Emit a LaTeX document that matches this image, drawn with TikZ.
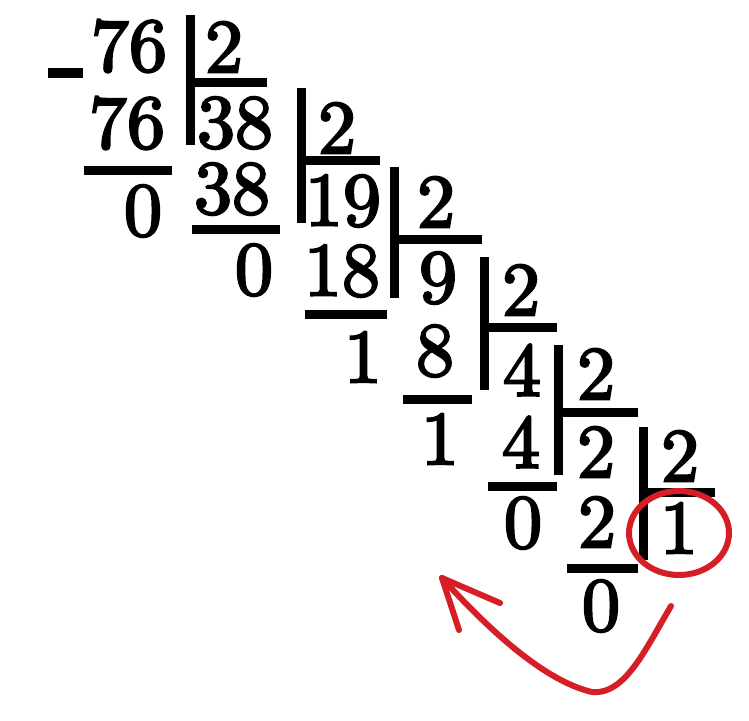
\documentclass[tikz,border=0pt]{standalone}
\usepackage{fontspec}
\newfontfamily\digf{lmroman10-regular}[Extension=.otf,FakeBold=3]
\definecolor{penred}{RGB}{214,30,38}
\tikzset{
  num/.style={inner sep=0pt, font=\digf\fontsize{76}{80}\selectfont, text=black},
  bar/.style={line width=9pt, line cap=butt, black},
  pen/.style={line width=6pt, penred, line cap=round, line join=round}
}
\begin{document}
\begin{tikzpicture}[x=1pt,y=-1pt]
\useasboundingbox (0,0) rectangle (749,720);
% minus sign
\draw[line width=10pt, line cap=butt] (48,73) -- (83,73);
% numbers
\node[num] (d0) at (129,46) {76};
\node[num] (v0) at (224,47) {2};
\node[num] (p0) at (127,123) {76};
\node[num] (r0) at (143,211) {0};
\node[num] (d1) at (235,123) {38};
\node[num] (v1) at (337,128) {2};
\node[num] (p1) at (232,189) {38};
\node[num] (r1) at (254,270) {0};
\node[num] (d2) at (343,201) {19};
\node[num] (v2) at (436,202) {2};
\node[num] (p2) at (342,271) {18};
\node[num] (r2) at (363,357) {1};
\node[num] (d3) at (438,278) {9};
\node[num] (v3) at (521,290) {2};
\node[num] (p3) at (435,351) {8};
\node[num] (r3) at (440,439) {1};
\node[num] (d4) at (522,370) {4};
\node[num] (v4) at (596,374) {2};
\node[num] (p4) at (521,442) {4};
\node[num] (r4) at (523,523) {0};
\node[num] (d5) at (596,452) {2};
\node[num] (v5) at (680,456) {2};
\node[num] (p5) at (597,522) {2};
\node[num] (r5) at (601,606) {0};
\node[num] (d6) at (679,528) {1};
% vertical bars
\draw[bar] (190,15) -- (190,145);
\draw[bar] (301,88) -- (301,223);
\draw[bar] (394,167) -- (394,298);
\draw[bar] (484,257) -- (484,390);
\draw[bar] (558,345) -- (558,475);
\draw[bar] (643,427) -- (643,560);
% divisor bars
\draw[bar] (186,82) -- (267,82);
\draw[bar] (297,160) -- (380,160);
\draw[bar] (390,239) -- (482,239);
\draw[bar] (480,327) -- (557,327);
\draw[bar] (554,412) -- (638,412);
\draw[bar] (639,492) -- (715,492);
% subtraction lines
\draw[bar] (84,170) -- (172,170);
\draw[bar] (192,229) -- (280,229);
\draw[bar] (305,314) -- (387,314);
\draw[bar] (403,399) -- (472,399);
\draw[bar] (488,486) -- (557,486);
\draw[bar] (567,568) -- (638,568);
% red circle
\draw[pen] (d6.center) ++(0,5) ellipse [x radius=50, y radius=42];
% red arrow
\coordinate (s) at (671,606);
\coordinate (b) at (592,692);
\coordinate (t) at (442,578);
\coordinate (h1) at (500,603);
\coordinate (h2) at (459,630);
\draw[pen] (s) .. controls (645,650) and (625,695) .. (b) .. controls (540,680) and (480,620) .. (t);
\draw[pen] (t) -- (h1);
\draw[pen] (t) -- (h2);
\end{tikzpicture}
\end{document}
